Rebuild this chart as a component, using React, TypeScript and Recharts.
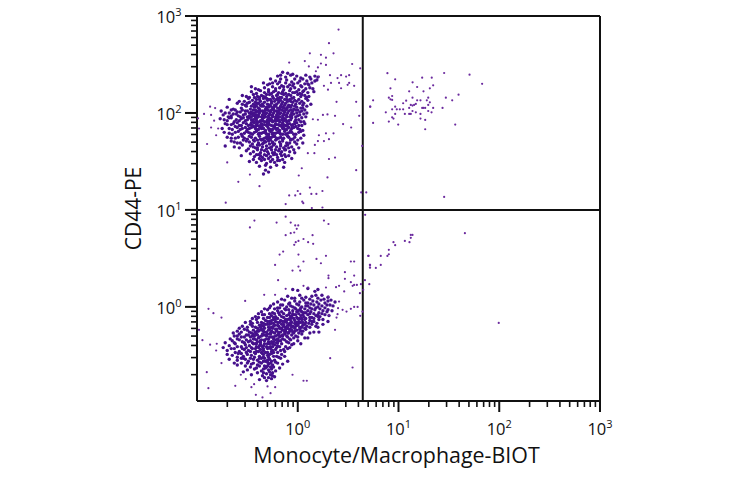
import { ReferenceLine, Scatter, ScatterChart, XAxis, YAxis } from "recharts";

type Event = [number, number];

const upperCluster: Event[] = [
[-.15,2.42],[-.1,2.41],[-.05,2.4],[-.17,2.39],
[-.2,2.38],[-.12,2.37],[-.07,2.39],[-.01,2.38],[.03,2.36],[.08,2.39],[.12,2.37],[.17,2.38],[.2,2.37],
[-.27,2.35],[-.22,2.33],[-.17,2.35],[-.11,2.34],[-.06,2.32],[-.03,2.35],[.02,2.33],[.05,2.35],[.09,2.33],[.13,2.35],[.17,2.33],
[-.34,2.31],[-.3,2.29],[-.25,2.31],[-.2,2.3],[-.16,2.28],[-.12,2.31],[-.08,2.29],[-.04,2.3],[0,2.31],[.03,2.28],[.07,2.3],[.11,2.29],[.14,2.31],
[-.46,2.27],[-.42,2.25],[-.33,2.26],[-.29,2.24],[-.25,2.27],[-.22,2.25],[-.18,2.26],[-.14,2.24],[-.1,2.27],[-.07,2.25],[-.03,2.26],[.01,2.24],[.04,2.27],[.08,2.25],[.12,2.26],
[-.46,2.22],[-.41,2.2],[-.37,2.23],[-.33,2.21],[-.29,2.22],[-.26,2.2],[-.22,2.23],[-.19,2.21],[-.15,2.22],[-.12,2.2],[-.08,2.23],[-.05,2.21],[-.01,2.22],[.02,2.2],[.06,2.23],[.1,2.21],[.16,2.22],
[-.55,2.18],[-.48,2.16],[-.44,2.19],[-.4,2.17],[-.36,2.18],[-.32,2.16],[-.28,2.19],[-.25,2.17],[-.21,2.18],[-.18,2.16],[-.14,2.19],[-.11,2.17],[-.07,2.18],[-.04,2.16],[0,2.19],[.03,2.17],[.07,2.18],[.09,2.16],
[-.68,2.14],[-.53,2.12],[-.49,2.15],[-.45,2.13],[-.41,2.14],[-.37,2.12],[-.34,2.15],[-.3,2.13],[-.27,2.14],[-.23,2.12],[-.2,2.15],[-.17,2.13],[-.13,2.14],[-.1,2.12],[-.06,2.15],[-.03,2.13],[.01,2.14],[.04,2.12],[.08,2.15],
[-.6,2.1],[-.52,2.08],[-.48,2.11],[-.44,2.09],[-.4,2.1],[-.37,2.08],[-.33,2.11],[-.3,2.09],[-.26,2.1],[-.23,2.08],[-.19,2.11],[-.16,2.09],[-.12,2.1],[-.09,2.08],[-.05,2.11],[-.02,2.09],[.02,2.1],[.05,2.08],
[-.7,2.06],[-.64,2.04],[-.56,2.05],[-.51,2.07],[-.47,2.04],[-.43,2.06],[-.39,2.05],[-.36,2.07],[-.32,2.04],[-.29,2.06],[-.25,2.05],[-.22,2.07],[-.18,2.04],[-.15,2.06],[-.11,2.05],[-.08,2.07],[-.04,2.04],[-.01,2.06],[.03,2.05],[.07,2.03],
[-.76,2.02],[-.68,2],[-.62,2.03],[-.57,2.01],[-.52,2.02],[-.48,2],[-.44,2.03],[-.41,2.01],[-.37,2.02],[-.34,2],[-.3,2.03],[-.27,2.01],[-.23,2.02],[-.2,2],[-.16,2.03],[-.13,2.01],[-.09,2.02],[-.06,2],[-.02,2.03],[.02,2.01],[.06,1.99],
[-.74,1.98],[-.69,1.96],[-.64,1.99],[-.59,1.97],[-.54,1.98],[-.5,1.96],[-.46,1.99],[-.43,1.97],[-.39,1.98],[-.36,1.96],[-.32,1.99],[-.29,1.97],[-.25,1.98],[-.22,1.96],[-.18,1.99],[-.15,1.97],[-.11,1.98],[-.08,1.96],[-.04,1.99],[0,1.97],[.04,1.95],
[-.77,1.94],[-.7,1.92],[-.66,1.95],[-.61,1.93],[-.56,1.94],[-.52,1.92],[-.48,1.95],[-.44,1.93],[-.41,1.94],[-.37,1.92],[-.34,1.95],[-.3,1.93],[-.27,1.94],[-.23,1.92],[-.2,1.95],[-.16,1.93],[-.13,1.94],[-.09,1.92],[-.06,1.95],[-.02,1.93],[.03,1.91],
[-.72,1.89],[-.66,1.88],[-.6,1.9],[-.56,1.87],[-.51,1.89],[-.47,1.88],[-.43,1.9],[-.4,1.87],[-.36,1.89],[-.33,1.88],[-.29,1.9],[-.26,1.87],[-.22,1.89],[-.19,1.88],[-.15,1.9],[-.12,1.87],[-.08,1.89],[-.05,1.88],[-.01,1.9],[.04,1.87],
[-.68,1.84],[-.62,1.86],[-.57,1.83],[-.52,1.85],[-.48,1.84],[-.44,1.86],[-.41,1.83],[-.37,1.85],[-.34,1.84],[-.3,1.86],[-.27,1.83],[-.23,1.85],[-.2,1.84],[-.16,1.86],[-.13,1.83],[-.09,1.85],[-.06,1.84],[-.02,1.86],[.02,1.83],
[-.73,1.8],[-.65,1.78],[-.59,1.81],[-.53,1.79],[-.49,1.8],[-.45,1.78],[-.41,1.81],[-.38,1.79],[-.34,1.8],[-.31,1.78],[-.27,1.81],[-.24,1.79],[-.2,1.8],[-.17,1.78],[-.13,1.81],[-.1,1.79],[-.06,1.8],[-.02,1.78],[.03,1.81],
[-.7,1.75],[-.62,1.74],[-.55,1.76],[-.5,1.73],[-.46,1.75],[-.42,1.74],[-.38,1.76],[-.35,1.73],[-.31,1.75],[-.28,1.74],[-.24,1.76],[-.21,1.73],[-.17,1.75],[-.14,1.74],[-.1,1.76],[-.07,1.73],[-.03,1.75],[.03,1.74],
[-.66,1.71],[-.6,1.69],[-.54,1.72],[-.48,1.7],[-.43,1.71],[-.39,1.69],[-.36,1.72],[-.32,1.7],[-.29,1.71],[-.25,1.69],[-.22,1.72],[-.18,1.7],[-.15,1.71],[-.11,1.69],[-.07,1.72],[-.03,1.7],[.05,1.69],
[-.72,1.66],[-.63,1.65],[-.55,1.67],[-.47,1.66],[-.42,1.64],[-.38,1.67],[-.35,1.65],[-.31,1.66],[-.28,1.64],[-.24,1.67],[-.21,1.65],[-.17,1.66],[-.14,1.64],[-.1,1.67],[-.06,1.65],[.01,1.64],
[-.51,1.61],[-.44,1.6],[-.4,1.62],[-.37,1.59],[-.33,1.61],[-.3,1.6],[-.26,1.62],[-.23,1.59],[-.19,1.61],[-.16,1.6],[-.12,1.62],[-.08,1.6],[-.03,1.59],
[-.56,1.56],[-.43,1.55],[-.39,1.57],[-.35,1.54],[-.31,1.56],[-.27,1.55],[-.24,1.57],[-.2,1.54],[-.16,1.56],[-.12,1.55],[-.06,1.53],
[-.48,1.5],[-.41,1.49],[-.36,1.51],[-.31,1.48],[-.27,1.5],[-.23,1.49],[-.18,1.51],[-.13,1.49],[-.38,1.45],[-.32,1.46],[-.27,1.44],[-.21,1.46],[-.14,1.44],[-.32,1.41],[-.29,1.39],[-.34,1.37],
];

// the solid centre of the upper population
const upperCore: Event[] = [
[-.42,2.11],[-.38,2.14],[-.31,2.15],[-.26,2.12],[-.21,2.14],[-.16,2.16],[-.11,2.14],[-.07,2.12],
[-.41,2.07],[-.35,2.09],[-.31,2.06],[-.28,2.08],[-.24,2.06],[-.21,2.09],[-.17,2.07],[-.13,2.08],[-.1,2.06],[-.06,2.08],
[-.42,2.03],[-.38,2.04],[-.35,2.02],[-.31,2.04],[-.28,2.02],[-.24,2.04],[-.21,2.02],[-.18,2.05],[-.14,2.02],[-.11,2.04],[-.07,2.03],
[-.45,1.99],[-.41,1.98],[-.38,2],[-.35,1.98],[-.31,2],[-.28,1.99],[-.24,2],[-.21,1.98],[-.17,2],[-.14,1.99],[-.1,2],[-.07,1.98],
[-.46,1.96],[-.42,1.95],[-.39,1.96],[-.35,1.94],[-.32,1.96],[-.29,1.95],[-.25,1.96],[-.22,1.94],[-.18,1.96],[-.15,1.95],[-.11,1.96],
[-.44,1.91],[-.41,1.92],[-.38,1.91],[-.35,1.92],[-.31,1.91],[-.28,1.92],[-.25,1.91],[-.21,1.92],[-.18,1.91],[-.14,1.92],[-.11,1.91],
[-.45,1.87],[-.41,1.88],[-.38,1.86],[-.35,1.88],[-.31,1.87],[-.28,1.88],[-.24,1.86],[-.21,1.88],[-.18,1.87],[-.14,1.88],[-.1,1.86],
[-.39,1.83],[-.36,1.84],[-.32,1.82],[-.29,1.84],[-.25,1.83],[-.22,1.84],[-.18,1.82],[-.15,1.84],[-.11,1.83],
[-.36,1.79],[-.33,1.8],[-.29,1.78],[-.26,1.8],[-.22,1.79],[-.19,1.8],[-.15,1.78],
[-.33,1.74],[-.29,1.76],[-.26,1.75],[-.23,1.76],[-.19,1.74],[-.4,1.72],[-.35,1.68],[-.3,1.73],[-.25,1.7],
];

// second pass over the upper population, between the marks above
const upperFill: Event[] = [
[-.28,2.3],[-.18,2.32],[-.14,2.27],[-.05,2.28],[.05,2.22],[.1,2.3],[.15,2.25],[.19,2.34],[-.39,2.24],[-.31,2.19],[-.24,2.22],[-.2,2.19],[-.16,2.2],[-.09,2.19],[-.03,2.21],[.04,2.19],[.11,2.17],
[-.51,2.17],[-.43,2.16],[-.38,2.16],[-.34,2.17],[-.29,2.14],[-.24,2.15],[-.19,2.13],[-.15,2.11],[-.08,2.14],[-.01,2.12],[.06,2.1],[.1,2.13],[.13,2.09],
[-.58,2.12],[-.55,2.09],[-.5,2.1],[-.46,2.07],[-.42,2.08],[-.39,2.1],[-.34,2.07],[-.27,2.07],[-.2,2.05],[-.14,2.05],[-.07,2.06],[-.03,2.07],[0,2.03],[.05,2.05],[.09,2.07],
[-.66,2.03],[-.6,2.01],[-.55,2.03],[-.5,2.02],[-.46,2.01],[-.43,2],[-.39,2.02],[-.33,2.02],[-.26,2.03],[-.19,2.02],[-.12,2.03],[-.05,2.02],[-.01,2],[.04,2.02],[.09,2],
[-.72,2],[-.66,1.97],[-.61,1.99],[-.57,1.96],[-.52,1.99],[-.48,1.97],[-.44,1.98],[-.4,1.96],[-.33,1.97],[-.27,1.98],[-.2,1.97],[-.13,1.98],[-.06,1.97],[-.02,1.96],[.02,1.98],[.08,1.96],
[-.73,1.93],[-.68,1.95],[-.63,1.91],[-.58,1.92],[-.54,1.95],[-.5,1.93],[-.46,1.93],[-.4,1.9],[-.33,1.91],[-.26,1.93],[-.19,1.93],[-.12,1.93],[-.07,1.93],[-.03,1.91],[.01,1.93],[.06,1.91],
[-.7,1.88],[-.64,1.89],[-.58,1.87],[-.54,1.9],[-.49,1.87],[-.46,1.9],[-.42,1.86],[-.37,1.87],[-.3,1.89],[-.23,1.87],[-.16,1.88],[-.1,1.89],[-.06,1.87],[-.03,1.89],[.01,1.87],[.07,1.89],
[-.75,1.84],[-.65,1.83],[-.6,1.85],[-.55,1.84],[-.5,1.83],[-.46,1.85],[-.42,1.84],[-.35,1.85],[-.28,1.82],[-.21,1.83],[-.14,1.85],[-.07,1.82],[-.04,1.85],[0,1.84],[.05,1.82],
[-.68,1.79],[-.62,1.8],[-.56,1.78],[-.51,1.81],[-.47,1.79],[-.43,1.8],[-.39,1.78],[-.32,1.8],[-.25,1.78],[-.18,1.8],[-.12,1.78],[-.08,1.8],[-.04,1.78],[.01,1.8],[.06,1.77],
[-.66,1.74],[-.59,1.75],[-.53,1.74],[-.48,1.76],[-.44,1.72],[-.37,1.73],[-.33,1.71],[-.27,1.72],[-.21,1.74],[-.15,1.73],[-.09,1.75],[-.05,1.73],[0,1.72],
[-.63,1.7],[-.57,1.69],[-.51,1.71],[-.45,1.68],[-.4,1.67],[-.34,1.69],[-.28,1.68],[-.23,1.68],[-.17,1.68],[-.12,1.66],[-.08,1.69],[-.01,1.68],
[-.58,1.64],[-.49,1.63],[-.44,1.65],[-.4,1.64],[-.36,1.62],[-.31,1.63],[-.26,1.65],[-.22,1.62],[-.18,1.63],[-.13,1.62],[-.09,1.64],[-.04,1.62],
[-.47,1.58],[-.41,1.57],[-.37,1.56],[-.33,1.57],[-.29,1.58],[-.25,1.59],[-.21,1.57],[-.17,1.58],[-.13,1.57],[-.09,1.56],[-.44,1.52],[-.38,1.53],[-.33,1.52],[-.29,1.53],[-.25,1.52],[-.2,1.51],[-.15,1.52],
];

const lowerCluster: Event[] = [
[-.05,.18],[0,.17],[.1,.19],[.17,.16],[.2,.18],
[-.1,.11],[-.03,.09],[.02,.12],[.08,.1],[.14,.11],[.2,.09],[.24,.12],[.3,.1],
[-.2,.05],[-.13,.07],[-.08,.04],[-.03,.06],[.02,.05],[.06,.07],[.1,.04],[.15,.06],[.19,.05],[.23,.07],[.27,.04],[.3,.06],
[-.27,.01],[-.2,-.01],[-.15,.02],[-.11,0],[-.07,.01],[-.03,-.01],[.01,.02],[.04,0],[.08,.01],[.12,-.01],[.16,.02],[.2,0],[.24,.01],[.27,-.01],[.32,.02],
[-.36,-.05],[-.3,-.03],[-.25,-.06],[-.2,-.04],[-.16,-.05],[-.12,-.03],[-.08,-.06],[-.05,-.04],[-.01,-.05],[.02,-.03],[.06,-.06],[.1,-.04],[.13,-.05],[.17,-.03],[.21,-.06],[.25,-.04],[.29,-.05],
[-.42,-.1],[-.35,-.08],[-.3,-.11],[-.26,-.09],[-.22,-.1],[-.18,-.08],[-.14,-.11],[-.11,-.09],[-.07,-.1],[-.04,-.08],[-.01,-.11],[.03,-.09],[.06,-.1],[.1,-.08],[.14,-.11],[.18,-.09],[.22,-.1],[.27,-.08],
[-.47,-.15],[-.41,-.13],[-.36,-.16],[-.32,-.14],[-.28,-.15],[-.24,-.13],[-.2,-.16],[-.17,-.14],[-.13,-.15],[-.1,-.13],[-.06,-.16],[-.03,-.14],[.01,-.15],[.04,-.13],[.08,-.16],[.12,-.14],[.16,-.15],[.21,-.13],
[-.55,-.2],[-.47,-.18],[-.42,-.21],[-.38,-.19],[-.34,-.2],[-.3,-.18],[-.26,-.21],[-.23,-.19],[-.19,-.2],[-.16,-.18],[-.12,-.21],[-.09,-.19],[-.05,-.2],[-.02,-.18],[.02,-.21],[.05,-.19],[.09,-.2],[.14,-.18],[.2,-.21],
[-.6,-.25],[-.53,-.23],[-.48,-.26],[-.44,-.24],[-.4,-.25],[-.36,-.23],[-.33,-.26],[-.29,-.24],[-.26,-.25],[-.22,-.23],[-.19,-.26],[-.15,-.24],[-.12,-.25],[-.08,-.23],[-.05,-.26],[-.01,-.24],[.03,-.25],[.08,-.23],[.16,-.26],
[-.63,-.3],[-.58,-.28],[-.53,-.31],[-.49,-.29],[-.45,-.3],[-.41,-.28],[-.38,-.31],[-.34,-.29],[-.31,-.3],[-.27,-.28],[-.24,-.31],[-.2,-.29],[-.17,-.3],[-.13,-.28],[-.1,-.31],[-.06,-.29],[-.02,-.3],[.04,-.28],
[-.65,-.35],[-.6,-.33],[-.55,-.36],[-.51,-.34],[-.47,-.35],[-.43,-.33],[-.4,-.36],[-.36,-.34],[-.33,-.35],[-.29,-.33],[-.26,-.36],[-.22,-.34],[-.19,-.35],[-.15,-.33],[-.11,-.36],[-.07,-.34],[0,-.35],
[-.68,-.4],[-.62,-.38],[-.56,-.41],[-.52,-.39],[-.48,-.4],[-.44,-.38],[-.41,-.41],[-.37,-.39],[-.34,-.4],[-.3,-.38],[-.27,-.41],[-.23,-.39],[-.2,-.4],[-.16,-.38],[-.12,-.41],[-.06,-.39],
[-.7,-.45],[-.63,-.43],[-.58,-.46],[-.53,-.44],[-.49,-.45],[-.45,-.43],[-.41,-.46],[-.37,-.44],[-.34,-.45],[-.3,-.43],[-.26,-.46],[-.22,-.44],[-.17,-.45],[-.1,-.43],
[-.65,-.5],[-.59,-.48],[-.54,-.51],[-.5,-.49],[-.46,-.5],[-.42,-.48],[-.38,-.51],[-.34,-.49],[-.3,-.5],[-.26,-.48],[-.21,-.51],[-.16,-.49],
[-.6,-.55],[-.54,-.53],[-.49,-.56],[-.44,-.54],[-.4,-.55],[-.36,-.53],[-.32,-.56],[-.28,-.54],[-.23,-.55],[-.17,-.53],[-.1,-.56],
[-.6,-.6],[-.52,-.61],[-.46,-.59],[-.4,-.6],[-.36,-.58],[-.33,-.61],[-.29,-.59],[-.25,-.6],[-.2,-.58],
[-.5,-.65],[-.43,-.64],[-.36,-.66],[-.32,-.63],[-.29,-.65],[-.26,-.64],[-.22,-.66],
[-.46,-.7],[-.35,-.71],[-.31,-.69],[-.27,-.7],[-.23,-.72],[-.38,-.75],[-.31,-.76],[-.26,-.74],
];

// the darkest stretch along the lower population's diagonal
const lowerCore: Event[] = [
[-.02,-.02],[.03,-.04],[.07,-.02],[-.05,-.07],[-.02,-.08],[.01,-.07],[.05,-.08],[.08,-.12],[-.08,-.12],[-.04,-.12],[0,-.12],[.04,-.12],
[-.11,-.16],[-.07,-.14],[-.03,-.17],[.01,-.17],[.05,-.16],[-.14,-.18],[-.1,-.19],[-.06,-.21],[-.02,-.2],[.02,-.23],
[-.26,-.14],[-.22,-.12],[-.18,-.16],[-.28,-.18],[-.24,-.17],[-.2,-.19],[-.16,-.22],[-.12,-.23],[-.08,-.25],[-.04,-.27],
[-.37,-.21],[-.33,-.22],[-.29,-.21],[-.25,-.22],[-.21,-.23],[-.17,-.26],[-.13,-.26],[-.09,-.27],
[-.39,-.25],[-.35,-.24],[-.31,-.26],[-.27,-.27],[-.23,-.27],[-.19,-.28],[-.15,-.3],
[-.44,-.28],[-.4,-.29],[-.36,-.3],[-.32,-.29],[-.28,-.31],[-.24,-.33],[-.2,-.33],
[-.44,-.33],[-.41,-.34],[-.37,-.35],[-.33,-.34],[-.29,-.36],[-.25,-.38],[-.21,-.37],
[-.42,-.38],[-.38,-.4],[-.34,-.43],[-.31,-.41],[-.27,-.43],[-.36,-.47],[-.32,-.47],[-.28,-.49],[-.24,-.47],
[-.33,-.53],[-.3,-.55],[-.27,-.58],[-.31,-.62],[-.27,-.62],
];

// second pass over the lower population, wider across the diagonal
const lowerFill: Event[] = [
[-.16,.08],[-.06,.09],[.04,.09],[.12,.08],[.18,.12],[.26,.08],[.33,.07],[.37,.05],[-.24,.03],[-.17,.02],[-.09,.03],[-.01,.03],[.08,.04],[.13,.03],[.21,.03],[.29,.02],[.35,.01],
[-.33,-.02],[-.28,-.01],[-.23,-.02],[-.18,-.01],[-.13,-.02],[-.09,-.03],[-.05,0],[.03,-.01],[.1,.01],[.14,-.02],[.18,-.01],[.22,-.02],[.3,-.03],[.34,-.04],
[-.39,-.07],[-.33,-.08],[-.28,-.07],[-.23,-.07],[-.19,-.06],[-.14,-.07],[-.09,-.08],[-.06,-.09],[0,-.04],[.04,-.05],[.08,-.06],[.12,-.07],[.16,-.07],[.2,-.08],[.24,-.07],[.31,-.09],
[-.45,-.12],[-.39,-.11],[-.34,-.12],[-.28,-.11],[-.24,-.11],[-.2,-.12],[-.16,-.1],[-.12,-.13],[-.06,-.11],[.02,-.12],[.07,-.13],[.12,-.11],[.16,-.12],[.2,-.1],[.25,-.13],[.3,-.15],
[-.52,-.16],[-.45,-.17],[-.4,-.16],[-.34,-.17],[-.3,-.15],[-.26,-.17],[-.22,-.15],[-.15,-.15],[-.08,-.17],[-.01,-.16],[.03,-.16],[.07,-.18],[.11,-.17],[.14,-.15],[.19,-.17],[.25,-.18],
[-.58,-.22],[-.5,-.21],[-.45,-.2],[-.4,-.22],[-.36,-.19],[-.32,-.18],[-.28,-.23],[-.24,-.2],[-.18,-.22],[-.14,-.2],[-.1,-.22],[-.07,-.19],[-.03,-.22],[0,-.19],[.04,-.21],[.07,-.22],[.12,-.21],[.18,-.2],
[-.64,-.27],[-.56,-.26],[-.5,-.24],[-.46,-.27],[-.42,-.26],[-.38,-.24],[-.34,-.25],[-.3,-.28],[-.25,-.26],[-.21,-.25],[-.17,-.22],[-.13,-.24],[-.1,-.27],[-.06,-.24],[-.03,-.25],[.01,-.27],[.05,-.25],[.12,-.27],[.21,-.26],
[-.67,-.33],[-.6,-.3],[-.56,-.31],[-.51,-.29],[-.47,-.31],[-.43,-.3],[-.39,-.32],[-.35,-.28],[-.31,-.33],[-.26,-.31],[-.22,-.3],[-.18,-.31],[-.15,-.29],[-.11,-.3],[-.08,-.33],[-.04,-.32],[0,-.31],[.07,-.32],[.1,-.32],
[-.72,-.37],[-.63,-.37],[-.58,-.34],[-.53,-.37],[-.49,-.36],[-.45,-.37],[-.41,-.38],[-.37,-.37],[-.33,-.38],[-.28,-.38],[-.24,-.36],[-.2,-.37],[-.17,-.35],[-.13,-.34],[-.09,-.37],[-.04,-.38],[.03,-.38],
[-.74,-.42],[-.66,-.43],[-.6,-.41],[-.55,-.43],[-.51,-.42],[-.46,-.42],[-.42,-.43],[-.39,-.42],[-.35,-.41],[-.29,-.42],[-.25,-.41],[-.21,-.42],[-.18,-.41],[-.14,-.44],[-.08,-.42],
[-.7,-.49],[-.62,-.47],[-.56,-.48],[-.51,-.47],[-.47,-.46],[-.43,-.47],[-.39,-.46],[-.35,-.48],[-.3,-.47],[-.25,-.45],[-.2,-.47],[-.13,-.46],
[-.68,-.54],[-.6,-.52],[-.56,-.53],[-.52,-.54],[-.47,-.53],[-.43,-.52],[-.38,-.53],[-.34,-.52],[-.29,-.52],[-.24,-.51],[-.19,-.52],[-.13,-.51],
[-.63,-.58],[-.56,-.58],[-.5,-.58],[-.44,-.58],[-.38,-.57],[-.34,-.56],[-.3,-.57],[-.26,-.56],[-.22,-.57],[-.15,-.59],[-.47,-.62],[-.41,-.63],[-.38,-.61],[-.34,-.64],[-.3,-.61],[-.24,-.62],[-.18,-.63],
[-.54,-.67],[-.4,-.68],[-.34,-.68],[-.28,-.67],[-.25,-.68],[-.33,-.73],[-.29,-.73],[-.25,-.71],
];

const sparseEvents: Event[] = [
[.405,2.86],[.31,2.72],[.355,2.615],[.12,2.615],[-.085,2.52],[.23,2.6],[.28,2.57],[.54,2.505],[.62,2.46],[.07,2.535],[.11,2.48],[.2,2.47],[.23,2.51],[.28,2.495],[.18,2.43],[.21,2.375],[.32,2.39],[.43,2.39],[.51,2.39],[.48,2.375],[.395,2.36],[.33,2.31],[.26,2.28],[.41,2.31],[.51,2.31],[.56,2.28],[.43,2.255],[.495,2.29],[.3,2.24],[.385,2.115],[.58,2.115],[.72,2.065],[.61,1.97],[.37,1.97],[.295,1.985],[.25,1.98],[.2,1.93],[.15,1.935],[.45,1.885],[.53,1.85],[.355,1.79],[.28,1.79],[.21,1.77],[.2,1.71],[.26,1.71],[.31,1.73],[.17,1.67],[.64,1.66],[.1,1.585],[.165,1.585],[.31,1.525],[.37,1.54],[.58,1.41],[.295,1.335],[.04,1.43],[.01,1.355],[.63,1.18],[.68,1.18],[.245,1.195],[.12,1.23],[.135,1.165],[.185,1.165],[0,1.195],[.025,1.165],[-.085,1.15],[-.025,1.15],[.045,1.085],[.055,1.07],[-.12,1.06],[.14,1.02],[.245,1.025],[-.59,1.29],[-.38,1.245],[-.715,1.075],[-.475,1.365],[-.7,1.49],[-.9,1.68],[-.87,2.065],[-.82,2.05],[-.93,1.99],[-.99,1.945],[-.86,1.98],[-.98,1.84],[-.86,1.85],[-.83,1.92],[-.79,1.84],[-.81,1.77],
[-.43,.89],[-.475,.82],[-.21,.87],[-.12,.93],[-.07,.87],[.005,.84],[-.025,.84],[-.01,.805],[-.07,.76],[-.12,.74],[-.035,.767],[.26,.89],[.305,.855],[.147,.74],[.057,.7],[.007,.68],[-.02,.667],[.103,.667],[.153,.65],[-.035,.64],[-.145,.57],[-.18,.54],[.007,.54],[.28,.527],[.186,.495],[.057,.468],[.23,.45],[-.225,.433],[.007,.416],[-.052,.375],[.024,.375],[-.195,.275],[.305,.323],[.305,.296],[.468,.358],[.468,.289],[.56,.323],[.527,.468],[.56,.468],[.7,.527],[.716,.433],[.716,.406],[.667,.275],[.71,.234],[.527,.255],[.56,.227],[.587,.227],[.545,.217],[.627,.234],[.65,.176],[.617,.141],[.41,.217],[.38,.203],[.28,.2],[.461,.159],[.305,.107],[.41,.055],[.445,-.03],[.484,-.048],[.527,-.02],[.56,0],[.594,0],[.643,-.048],[.62,-.092],[.4,-.013],[.395,-.075],[.385,-.11],[.31,-.082],[.37,-.237],[.322,-.529],[.544,-.625],[.057,-.762],[.09,-.762],[-.052,-.7],[-.333,.124],[-.225,.124],[-.522,.062],[-.12,.186],[.057,.217],[.103,.2],[-.886,-.02],[-.837,-.065],[-.757,-.11],[-.98,-.237],[-.946,-.343],[-.903,-.673],[-.887,-.838],[-.62,-.814],[-.87,-.39],[-.804,-.38],[-.81,-.45],[-.757,-.58],[-.35,-.934],[-.27,-.89],[-.416,-.907],[-.46,-.828],[-.224,-.828],[-.3,-.82],[-.433,-.797],[-.516,-.745],[-.565,-.7],
];

const rightEvents: Event[] = [
[.89,2.41],[.967,2.347],[1.14,2.316],[1.235,2.364],[1.33,2.364],[1.453,2.412],[1.705,2.395],[1.83,2.3],[1.344,2.285],[1.311,2.254],[1.248,2.223],[1.185,2.268],[1.106,2.223],[.92,2.254],[1.596,2.189],[1.47,2.158],[1.533,2.13],[.904,2.158],[.937,2.175],[.92,2.141],[.937,2.134],[.748,2.13],[.718,2.065],[1.076,2.127],[1.046,2.1],[1.139,2.158],[1.185,2.13],[1.218,2.13],[1.295,2.158],[1.281,2.13],[1.311,2.11],[1.295,2.083],[1.344,2.052],[1.437,2.052],[1.248,2.052],[1.265,2.052],[1.235,2.052],[1.172,2.093],[1.155,2.083],[1.139,2.076],[1.122,2.083],[1.106,2.052],[.967,2.065],[.983,2.038],[1.013,2.038],[1.046,2.038],[.937,2.038],[.874,2.007],[.967,1.99],[1.063,1.99],[1.106,1.99],[1.122,1.99],[1.139,2.02],[1.172,2.007],[1.218,1.99],[1.295,2.02],[1.328,2.007],[1.218,1.942],[1.265,1.928],[.937,1.955],[.95,1.942],[.904,1.911],[.748,1.897],[.997,1.88],[1.563,1.88],[1.265,1.832],[1.453,1.134],
[1.659,.76],[1.122,.742],[1.139,.742],[1.122,.712],[1.109,.667],[1.063,.68],[.95,.667],[.967,.636],[.904,.588],[.904,.543],[.89,.526],[.824,.526],[.702,.526],[.669,.949],[.718,.433],[.718,.405],[.775,.402],[.824,.433],[1.995,-.165],
];

const xDecades = [-1, 0, 1, 2];
const yDecades = [-1, 0, 1, 2];
const minorSteps = [2, 3, 4, 5, 6, 7, 8, 9];
const xGate = 4.42;
const yGate = 10;

const INK = "#111111";
const DOT = "#45108c";
const DOT_SPARSE = "#6b2a9e";
const FONT = "'Open Sans', sans-serif";

const toTable = (events: Event[]) => events.map(([a, b]) => ({ x: 10 ** a, y: 10 ** b }));

const clusterData = toTable([
  ...upperCluster,
  ...upperCore,
  ...upperFill,
  ...lowerCluster,
  ...lowerCore,
  ...lowerFill,
]);
const sparseData = toTable([...sparseEvents, ...rightEvents]);

const logTicks = (decades: number[]) => [
  ...decades.flatMap((d) => minorSteps.map((m) => m * 10 ** d)),
  ...decades.map((d) => 10 ** (d + 1)),
];
const isMajor = (v: number) => Math.abs(Math.log10(v) - Math.round(Math.log10(v))) < 1e-6;

function PowerLabel({ x, y, exp }: { x: number; y: number; exp: number }) {
  return (
    <text x={x} y={y} textAnchor="middle" fontFamily={FONT} fontSize={16.5} fill={INK}>
      10
      <tspan dy={-7} fontSize={11}>{exp}</tspan>
    </text>
  );
}

function XTick({ x, y, payload }: any) {
  const major = isMajor(payload.value);
  return (
    <g>
      <line x1={x} x2={x} y1={y} y2={y + (major ? 11 : 6)} stroke={INK} strokeWidth={major ? 2 : 1.6} />
      {major && <PowerLabel x={x} y={y + 34} exp={Math.round(Math.log10(payload.value))} />}
    </g>
  );
}

function YTick({ x, y, payload }: any) {
  const major = isMajor(payload.value);
  return (
    <g>
      <line x1={x} x2={x - (major ? 12 : 6)} y1={y} y2={y} stroke={INK} strokeWidth={major ? 2 : 1.6} />
      {major && <PowerLabel x={x - 28} y={y + 7} exp={Math.round(Math.log10(payload.value))} />}
    </g>
  );
}

function ClusterDot({ cx, cy }: any) {
  return <circle cx={cx} cy={cy} r={1.7} fill={DOT} />;
}

function SparseDot({ cx, cy }: any) {
  return <circle cx={cx} cy={cy} r={1.1} fill={DOT_SPARSE} />;
}

export default function App() {
  return (
    <div style={{ position: "absolute", left: 0, top: 0, width: 730, height: 478, background: "#fff" }}>
      <ScatterChart width={730} height={478} margin={{ top: 16, right: 130, bottom: 0, left: 117 }}>
        <XAxis
          type="number"
          dataKey="x"
          scale="log"
          domain={[0.1, 1000]}
          ticks={logTicks(xDecades)}
          interval={0}
          allowDataOverflow
          height={77}
          tickSize={0}
          tickMargin={0}
          tickLine={false}
          tick={<XTick />}
          axisLine={{ stroke: INK, strokeWidth: 2 }}
          label={{
            value: "Monocyte/Macrophage-BIOT",
            position: "insideBottom",
            offset: 15,
            dx: -2,
            style: { fontFamily: FONT, fontSize: 21.4, fill: INK },
          }}
        />
        <YAxis
          type="number"
          dataKey="y"
          scale="log"
          domain={[0.107, 1000]}
          ticks={logTicks(yDecades).filter((v) => v > 0.107)}
          interval={0}
          allowDataOverflow
          width={80}
          tickSize={0}
          tickMargin={0}
          tickLine={false}
          tick={<YTick />}
          axisLine={{ stroke: INK, strokeWidth: 2 }}
          label={{
            value: "CD44-PE",
            angle: -90,
            position: "insideLeft",
            offset: 17,
            style: { fontFamily: FONT, fontSize: 21, fill: INK, textAnchor: "middle" },
          }}
        />
        <Scatter data={clusterData} shape={<ClusterDot />} isAnimationActive={false} />
        <Scatter data={sparseData} shape={<SparseDot />} isAnimationActive={false} />
        <ReferenceLine x={xGate} stroke={INK} strokeWidth={2} />
        <ReferenceLine y={yGate} stroke={INK} strokeWidth={2} />
        <ReferenceLine x={1000} stroke={INK} strokeWidth={2} />
        <ReferenceLine y={1000} stroke={INK} strokeWidth={2} />
      </ScatterChart>
    </div>
  );
}
